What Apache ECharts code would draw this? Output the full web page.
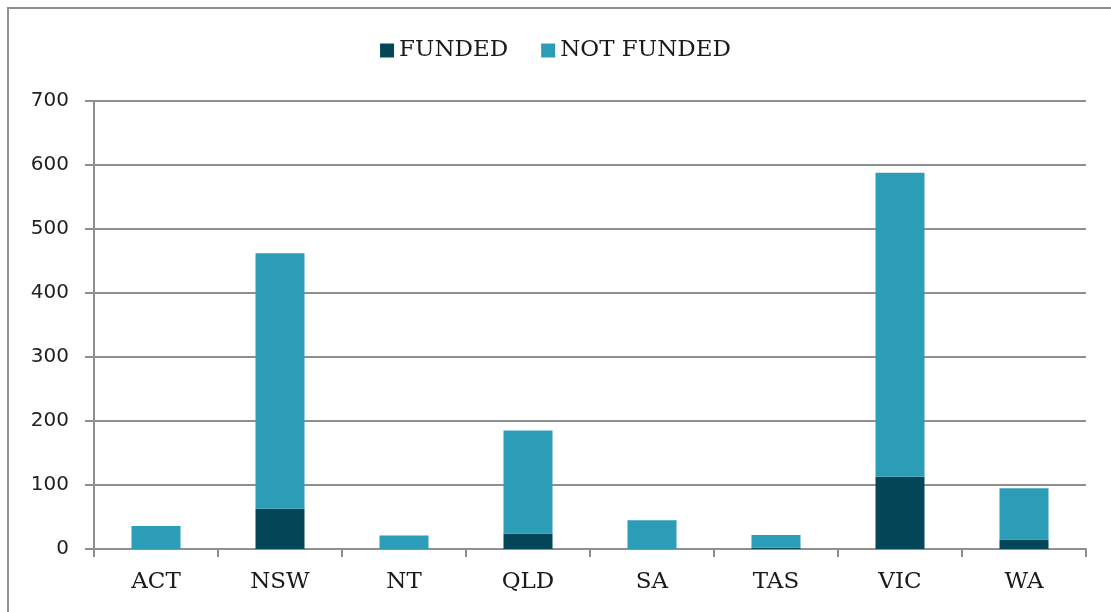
<!DOCTYPE html>
<html>
<head>
<meta charset="utf-8">
<script src="https://cdn.jsdelivr.net/npm/echarts@6/dist/echarts.min.js"></script>
<style>
  html, body { margin: 0; padding: 0; background: #fff; }
  #chart { width: 1111px; height: 612px; }
</style>
</head>
<body>
<div id="chart"></div>
<script>
const states = ['ACT', 'NSW', 'NT', 'QLD', 'SA', 'TAS', 'VIC', 'WA'];
const funded = [0, 63, 0, 24, 0, 2, 113, 15];
const notFunded = [36, 399, 21, 161, 45, 20, 475, 80];

const serif = '"DejaVu Serif", serif';
const sans = '"DejaVu Sans", sans-serif';
const gridGray = '#8f8f8f';

const chart = echarts.init(document.getElementById('chart'));

chart.setOption({
  animation: false,
  color: ['#044758', '#2c9db7'],
  graphic: [
    {
      type: 'rect',
      shape: { x: 8, y: 8, width: 1200, height: 700 },
      style: { fill: 'none', stroke: gridGray, lineWidth: 2 },
      silent: true
    }
  ],
  legend: {
    top: 34,
    left: 'center',
    itemWidth: 14,
    itemHeight: 14,
    itemGap: 33,
    icon: 'rect',
    textStyle: { fontFamily: serif, fontSize: 23, color: '#1a1a1a' },
    data: ['FUNDED', 'NOT FUNDED']
  },
  grid: { left: 94, right: 25, top: 101, bottom: 63 },
  xAxis: {
    type: 'category',
    data: states,
    axisLine: { lineStyle: { color: gridGray, width: 2 } },
    axisTick: { show: true, length: 8, lineStyle: { color: gridGray, width: 2 } },
    axisLabel: { fontFamily: serif, fontSize: 23, color: '#1a1a1a', margin: 22 }
  },
  yAxis: {
    type: 'value',
    min: 0,
    max: 700,
    interval: 100,
    axisLine: { show: true, lineStyle: { color: gridGray, width: 2 } },
    axisTick: { show: true, length: 9, lineStyle: { color: gridGray, width: 2 } },
    axisLabel: { fontFamily: sans, fontSize: 20, color: '#222', margin: 25 },
    splitLine: { show: true, lineStyle: { color: gridGray, width: 2 } }
  },
  series: [
    {
      name: 'FUNDED',
      type: 'bar',
      stack: 'total',
      barWidth: 49,
      data: funded
    },
    {
      name: 'NOT FUNDED',
      type: 'bar',
      stack: 'total',
      barWidth: 49,
      data: notFunded
    }
  ]
});
</script>
</body>
</html>
